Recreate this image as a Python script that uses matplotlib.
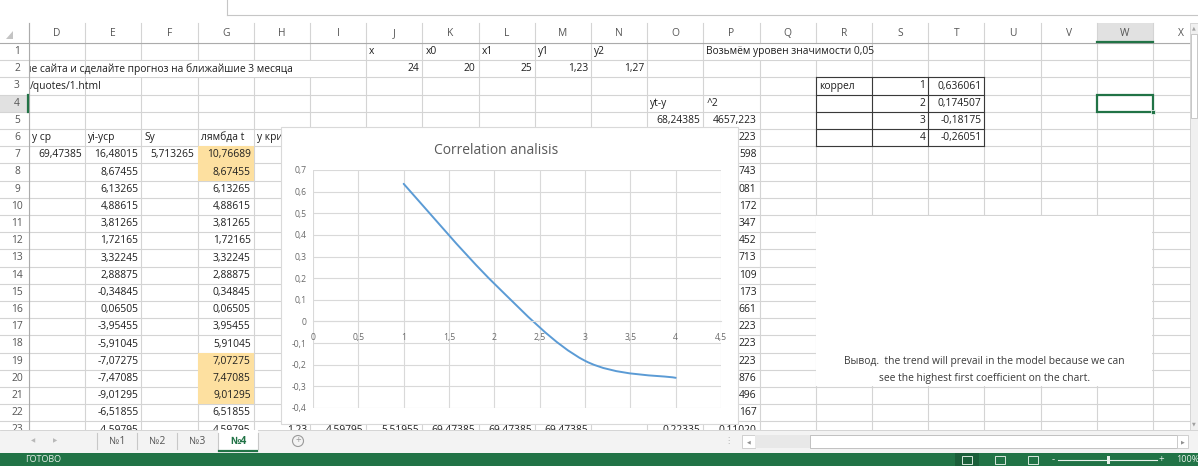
import numpy as np
import matplotlib.pyplot as plt
from matplotlib.patches import Rectangle, Polygon, Circle, PathPatch
from matplotlib.path import Path
from matplotlib.ticker import FuncFormatter, MultipleLocator

plt.rcParams['font.family'] = ['Open Sans', 'DejaVu Sans']

# --- chart data (autocorrelation by lag) ---
lags = [1, 2, 3, 4]
coefs = [0.636061, 0.174507, -0.18175, -0.26051]
chart_title = "Correlation analisis"

# --- sheet content ---
columns = list("DEFGHIJKLMNOPQRSTUVWX")
row_numbers = list(range(1, 24))
header_row1 = {"J": "x", "K": "x0", "L": "x1", "M": "y1", "N": "y2"}
values_row2 = {"J": "24", "K": "20", "L": "25", "M": "1,23", "N": "1,27"}
note_p1 = "Возьмём уровен значимости 0,05"
task_d2 = "ие сайта и сделайте прогноз на ближайшие 3 месяца"
link_d3 = "/quotes/1.html"
header_row6 = {"D": "y ср", "E": "yi-yср", "F": "Sy", "G": "лямбда t", "H": "y крит"}
row7_values = {"D": "69,47385", "F": "5,713265"}
e_values = ["16,48015", "8,67455", "6,13265", "4,88615", "3,81265", "1,72165",
            "3,32245", "2,88875", "-0,34845", "0,06505", "-3,95455", "-5,91045",
            "-7,07275", "-7,47085", "-9,01295", "-6,51855", "-4,59795"]
g_values = ["10,76689", "8,67455", "6,13265", "4,88615", "3,81265", "1,72165",
            "3,32245", "2,88875", "0,34845", "0,06505", "3,95455", "5,91045",
            "7,07275", "7,47085", "9,01295", "6,51855", "4,59795"]
highlight_rows = [7, 8, 19, 20, 21]
p_tail = ["223", "598", "743", "081", "172", "347", "452", "713", "109",
          "173", "661", "223", "223", "223", "876", "496", "167"]
row23_values = {"H": "1,23", "I": "4,59795", "J": "5,51955", "K": "69,47385",
                "L": "69,47385", "M": "69,47385", "O": "0,22335", "P": "0,11020"}
conclusion = ["Вывод.  the trend will prevail in the model because we can",
              "see the highest first coefficient on the chart."]
sheet_tabs = ["№1", "№2", "№3", "№4"]

W, H = 1198, 466
CW, RH = 56.2, 17.2
X0, Y0 = 29, 43
GRID = '#d4d4d4'
GREEN = '#217346'
TXT = '#1f1f1f'


def col_left(c):
    return X0 + CW * columns.index(c)


def row_top(r):
    return Y0 + RH * (r - 1)


fig = plt.figure(figsize=(W / 100, H / 100), dpi=100)
bg = fig.add_axes([0, 0, 1, 1])
bg.set_xlim(0, W)
bg.set_ylim(H, 0)
bg.axis('off')


def put(c, r, s, ha='left', x=None, **kw):
    if x is None:
        x = col_left(c) + (3 if ha == 'left' else CW - 3)
    bg.text(x, row_top(r) + RH / 2, s, ha=ha, va='center', fontsize=7.4,
            color=kw.pop('color', TXT), zorder=3, **kw)


def blank(c0, c1, r):
    # hides gridlines where text overflows into neighbour cells
    x0 = col_left(c0) + 0.8
    x1 = col_left(c1) + CW - 0.8 if c1 != 'X' else col_left(c1)
    bg.add_patch(Rectangle((x0, row_top(r) + 0.6), x1 - x0, RH - 1.2,
                           fc='white', ec='none', zorder=1.5))


# gridlines
bottom = 430
for k in range(len(columns) + 1):
    x = X0 + CW * k
    bg.plot([x, x], [Y0, bottom], color=GRID, lw=0.8, zorder=1)
for r in range(0, 24):
    y = Y0 + RH * r
    bg.plot([X0, 1190], [y, y], color=GRID, lw=0.8, zorder=1)

# fills
for r in highlight_rows:
    bg.add_patch(Rectangle((col_left('G'), row_top(r)), CW, RH, fc='#fde0a0',
                           ec='none', zorder=1.6))

# row 1-3
for c, s in header_row1.items():
    put(c, 1, s)
put('P', 1, note_p1)
blank('Q', 'R', 1)
for c, s in values_row2.items():
    put(c, 2, s, ha='right')
put('D', 2, task_d2, x=25)
blank('E', 'I', 2)
put('D', 3, link_d3, x=30)
blank('E', 'E', 3)

# correlation table
put('R', 3, "коррел")
for i, (lag, v) in enumerate(zip(lags, coefs)):
    put('S', 3 + i, str(lag), ha='right')
    put('T', 3 + i, f"{v:.6g}".replace('.', ','), ha='right')
tx0, tx1 = col_left('R'), col_left('U')
ty0, ty1 = row_top(3), row_top(7)
for x in [tx0, col_left('S'), col_left('T'), tx1]:
    bg.plot([x, x], [ty0, ty1], color='#3a3a3a', lw=0.8, zorder=2.5)
for r in range(3, 8):
    bg.plot([tx0, tx1], [row_top(r)] * 2, color='#3a3a3a', lw=0.8, zorder=2.5)

put('O', 4, "yt-y")
put('P', 4, "^2")
put('O', 5, "68,24385", ha='right')
put('P', 5, "4657,223", ha='right')
for c, s in header_row6.items():
    put(c, 6, s)
for c, s in row7_values.items():
    put(c, 7, s, ha='right')
for i, (e, g) in enumerate(zip(e_values, g_values)):
    put('E', 7 + i, e, ha='right')
    put('G', 7 + i, g, ha='right')
for i, s in enumerate(p_tail):
    put('P', 6 + i, s, ha='right')
for c, s in row23_values.items():
    put(c, 23, s, ha='right')

# merged conclusion block
mx0, mx1 = col_left('R'), col_left('X')
bg.add_patch(Rectangle((mx0 + 0.6, row_top(11) + 0.6), mx1 - mx0 - 1.2,
                       row_top(21) - row_top(11) - 1.2, fc='white', ec='none', zorder=1.5))
for i, line in enumerate(conclusion):
    put('R', 19 + i, line, ha='center', x=(mx0 + mx1) / 2, color='#3a3a3a')

# selected cell W4
bg.add_patch(Rectangle((col_left('W'), row_top(4)), CW, RH, fc='none', ec=GREEN,
                       lw=1.6, zorder=3))
bg.add_patch(Rectangle((col_left('X') - 2, row_top(5) - 2), 4, 4, fc=GREEN,
                       ec='white', lw=0.5, zorder=3.1))

# column headers
bg.add_patch(Rectangle((0, 23), W, 20, fc='white', ec='none', zorder=4))
for k, c in enumerate(columns):
    x = X0 + CW * k
    if c == 'W':
        bg.add_patch(Rectangle((x, 23), CW, 20, fc='#e1e1e1', ec='none', zorder=4.1))
        bg.plot([x, x + CW], [42.3, 42.3], color=GREEN, lw=1.6, zorder=4.3)
    bg.plot([x, x], [23, 43], color=GRID, lw=0.8, zorder=4.2)
    bg.text(x + CW / 2, 34, c, ha='center', va='center', fontsize=7.4,
            color='#555555', zorder=4.3)
bg.plot([0, 1190], [43, 43], color='#ababab', lw=0.8, zorder=4.2)
bg.plot([227, W], [15, 15], color='#c6c6c6', lw=0.8, zorder=4.2)
bg.plot([227, 227], [0, 15], color='#c6c6c6', lw=0.8, zorder=4.2)

# row headers
bg.add_patch(Rectangle((0, 23), X0, bottom - 23, fc='white', ec='none', zorder=4))
bg.add_patch(Polygon([(6, 39), (13, 39), (13, 31)], closed=True, fc='#c4c4c4',
                     ec='none', zorder=4.3))
for r in row_numbers:
    if r == 4:
        bg.add_patch(Rectangle((0, row_top(r)), X0, RH, fc='#e1e1e1', ec='none', zorder=4.1))
        bg.plot([X0 - 0.7, X0 - 0.7], [row_top(r), row_top(r + 1)], color=GREEN,
                lw=1.6, zorder=4.4)
    bg.plot([0, X0], [row_top(r + 1)] * 2, color=GRID, lw=0.8, zorder=4.2)
    bg.text(17, row_top(r) + RH / 2, str(r), ha='center', va='center',
            fontsize=7.4, color='#555555', zorder=4.3)
bg.plot([X0, X0], [23, bottom], color='#ababab', lw=0.8, zorder=4.2)

# vertical scrollbar
bg.add_patch(Rectangle((1190, 23), 8, bottom - 23, fc='#f0f0f0', ec='#d0d0d0',
                       lw=0.6, zorder=4.5))
bg.add_patch(Rectangle((1191, 34), 6, 84, fc='white', ec='#c0c0c0', lw=0.6, zorder=4.6))
bg.text(1194, 28, '▲', ha='center', va='center', fontsize=3.5, color='#a0a0a0',
        family='DejaVu Sans', zorder=4.7)
bg.text(1194, 424, '▼', ha='center', va='center', fontsize=3.5, color='#a0a0a0',
        family='DejaVu Sans', zorder=4.7)

# chart
cx0, cy0, cx1, cy1 = 281, 127, 738, 424
bg.add_patch(Rectangle((cx0, cy0), cx1 - cx0, cy1 - cy0, fc='white',
                       ec='#d9d9d9', lw=0.8, zorder=5))
bg.text(496, 150, chart_title, ha='center', va='center', fontsize=10,
        color='#595959', zorder=6)

px0, py0, px1, py1 = 313, 170, 721, 408
ax = fig.add_axes([px0 / W, 1 - py1 / H, (px1 - px0) / W, (py1 - py0) / H])
ax.set_facecolor('none')
ax.set_xlim(0, 4.5)
ax.set_ylim(-0.4, 0.7)
ax.xaxis.set_major_locator(MultipleLocator(0.5))
ax.yaxis.set_major_locator(MultipleLocator(0.1))
fmt = FuncFormatter(lambda v, p: f"{round(v, 2) + 0:g}".replace('.', ','))
ax.xaxis.set_major_formatter(fmt)
ax.yaxis.set_major_formatter(fmt)
ax.grid(True, color='#d9d9d9', lw=0.8)
ax.set_axisbelow(True)
for s in ['top', 'right', 'left']:
    ax.spines[s].set_visible(False)
ax.spines['bottom'].set_position(('data', 0))
ax.spines['bottom'].set_color('#d9d9d9')
ax.spines['bottom'].set_linewidth(0.8)
ax.tick_params(length=0, labelsize=6.2, labelcolor='#6a6a6a')
ax.tick_params(axis='x', pad=8)
ax.tick_params(axis='y', pad=4.5)

# smoothed line like Excel's "smooth line" scatter
pts = np.column_stack([lags, coefs])
verts, codes = [pts[0]], [Path.MOVETO]
n = len(pts)
for i in range(n - 1):
    p0, p1, p2, p3 = pts[max(i - 1, 0)], pts[i], pts[i + 1], pts[min(i + 2, n - 1)]
    verts += [p1 + (p2 - p0) / 6, p2 - (p3 - p1) / 6, p2]
    codes += [Path.CURVE4] * 3
ax.add_patch(PathPatch(Path(verts, codes), fc='none', ec='#5b9bd5', lw=1.4,
                       capstyle='round'))

# sheet tab bar
bg.add_patch(Rectangle((0, bottom), W, 453 - bottom, fc='#f3f3f3', ec='none', zorder=8))
bg.plot([0, W], [bottom, bottom], color='#d0d0d0', lw=0.6, zorder=8.1)
bg.text(33, 441, '◀', ha='center', va='center', fontsize=4, color='#b8b8b8',
        family='DejaVu Sans', zorder=8.2)
bg.text(55, 441, '▶', ha='center', va='center', fontsize=4, color='#b8b8b8',
        family='DejaVu Sans', zorder=8.2)
tab_edges = [97, 137, 177, 218, 258]
for x in tab_edges:
    bg.plot([x, x], [433, 449], color='#c8c8c8', lw=0.8, zorder=8.2)
for i, name in enumerate(sheet_tabs):
    xc = (tab_edges[i] + tab_edges[i + 1]) / 2
    if i == len(sheet_tabs) - 1:
        bg.add_patch(Rectangle((tab_edges[i], bottom), tab_edges[i + 1] - tab_edges[i],
                               21, fc='white', ec='none', zorder=8.15))
        bg.plot([tab_edges[i] + 1, tab_edges[i + 1] - 1], [450.5, 450.5], color=GREEN,
                lw=1.6, zorder=8.3)
        bg.text(xc, 441, name, ha='center', va='center', fontsize=7.4, color=GREEN,
                weight='bold', zorder=8.3)
    else:
        bg.text(xc, 441, name, ha='center', va='center', fontsize=7.4, color='#555555',
                zorder=8.3)
bg.add_patch(Circle((298, 441), 5.5, fc='none', ec='#9a9a9a', lw=0.8, zorder=8.3))
bg.text(298, 441, '+', ha='center', va='center', fontsize=7, color='#9a9a9a', zorder=8.3)

# horizontal scrollbar
bg.text(728, 441, '⋮', ha='center', va='center', fontsize=6, color='#b0b0b0',
        family='DejaVu Sans', zorder=8.3)
bg.add_patch(Rectangle((742, 435), 13, 13, fc='white', ec='#c8c8c8', lw=0.6, zorder=8.3))
bg.text(748.5, 441.5, '◀', ha='center', va='center', fontsize=3.5, color='#909090',
        family='DejaVu Sans', zorder=8.4)
bg.add_patch(Rectangle((755, 435), 55, 13, fc='#e8e8e8', ec='none', zorder=8.3))
bg.add_patch(Rectangle((810, 435), 367, 13, fc='white', ec='#b8b8b8', lw=0.6, zorder=8.3))
bg.add_patch(Rectangle((1177, 435), 11, 13, fc='white', ec='#c8c8c8', lw=0.6, zorder=8.3))
bg.text(1182.5, 441.5, '▶', ha='center', va='center', fontsize=3.5, color='#909090',
        family='DejaVu Sans', zorder=8.4)

# status bar
bg.add_patch(Rectangle((0, 453), W, H - 453, fc=GREEN, ec='none', zorder=9))
bg.text(25, 459.8, "ГОТОВО", ha='left', va='center', fontsize=6.5, color='#e8f0ea', zorder=9.1)
bg.add_patch(Rectangle((955, 453), 24, H - 453, fc='#1a5e39', ec='none', zorder=9.05))
for x in [967, 1000, 1033]:
    bg.add_patch(Rectangle((x - 5, 456), 10, 7.5, fc='none', ec='#d8e8dd', lw=0.7, zorder=9.1))
bg.plot([1058, 1157], [459.8, 459.8], color='#e8f0ea', lw=0.8, zorder=9.1)
bg.text(1053, 459.5, '-', ha='center', va='center', fontsize=7, color='#e8f0ea', zorder=9.1)
bg.text(1161, 459.5, '+', ha='center', va='center', fontsize=7, color='#e8f0ea', zorder=9.1)
bg.add_patch(Rectangle((1106.5, 455.5), 3, 8.5, fc='#e8f0ea', ec='none', zorder=9.2))
bg.text(1176, 459.8, "100%", ha='left', va='center', fontsize=6.5, color='#e8f0ea', zorder=9.1)

fig.savefig('out.png', dpi=100)
